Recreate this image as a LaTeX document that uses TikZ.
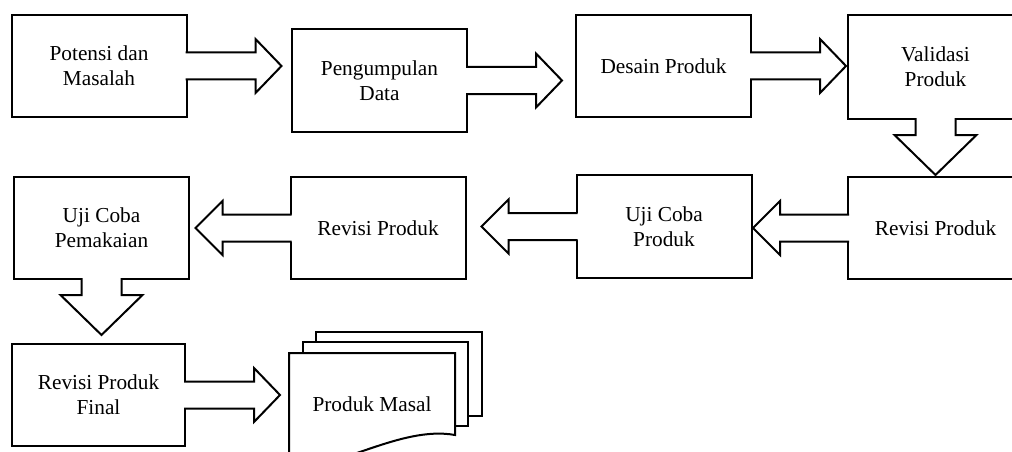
\documentclass[tikz,border=0pt]{standalone}
\usepackage{fontspec}
\setmainfont{Liberation Serif}
\usetikzlibrary{calc}

% block arrow: #1 from, #2 towards, #3 length, #4 shaft length, #5 shaft half width, #6 head half width
\newcommand{\blockarrow}[6]{%
  \coordinate (ba-s) at (#1);
  \coordinate (ba-d) at (#2);
  \coordinate (ba-t) at ($(ba-s)!-3pt!(ba-d)$);
  \coordinate (ba-e) at ($(ba-s)!-1pt!(ba-d)$);
  \coordinate (ba-b) at ($(ba-s)!#4!(ba-d)$);
  \coordinate (ba-p) at ($(ba-s)!#3!(ba-d)$);
  \fill[white] ($(ba-t)!#5!90:(ba-d)$) -- ($(ba-b)!#5!90:(ba-d)$) -- ($(ba-b)!#6!90:(ba-d)$) -- (ba-p)
    -- ($(ba-b)!#6!-90:(ba-d)$) -- ($(ba-b)!#5!-90:(ba-d)$) -- ($(ba-t)!#5!-90:(ba-d)$) -- cycle;
  \draw[blockline] ($(ba-e)!#5!90:(ba-d)$) -- ($(ba-b)!#5!90:(ba-d)$) -- ($(ba-b)!#6!90:(ba-d)$) -- (ba-p)
    -- ($(ba-b)!#6!-90:(ba-d)$) -- ($(ba-b)!#5!-90:(ba-d)$) -- ($(ba-e)!#5!-90:(ba-d)$);
}
\newcommand{\rightarrowblock}[2]{\blockarrow{#1.east}{#1.east -| #2.west}{95pt}{69pt}{13.5pt}{27pt}}
\newcommand{\leftarrowblock}[2]{\blockarrow{#1.west}{#1.west -| #2.east}{95pt}{68pt}{13.5pt}{27pt}}
\newcommand{\downarrowblock}[2]{\blockarrow{#1.south}{#1.south |- #2.north}{56pt}{16pt}{20pt}{41pt}}

\begin{document}
\begin{tikzpicture}[
    x=1pt, y=-1pt,
    box/.style={rectangle, draw, line width=2pt, fill=white, minimum width=175pt,
                minimum height=102pt, outer sep=0pt, align=center,
                font=\fontsize{21.3}{25}\selectfont},
    sheet/.style={draw, line width=2pt, fill=white, line join=miter},
    blockline/.style={line width=2pt, line join=miter}
]
\useasboundingbox (0,0) rectangle (1012,452);
\clip (0,0) rectangle (1012,452);

% === ROW 1 ===
\node[box] (potensi) at (99,66) {Potensi dan\\Masalah};
\node[box] (data) at (379.5,80.5) {Pengumpulan\\Data};
\node[box] (desain) at (663.5,66) {Desain Produk};
\node[box, minimum height=104pt] (validasi) at (935.5,67) {Validasi\\Produk};

% === ROW 2 ===
\node[box] (revisi1) at (935.5,228) {Revisi Produk};
\node[box, minimum height=103pt] (ujiproduk) at (664,226.5) {Uji Coba\\Produk};
\node[box] (revisi2) at (378,228) {Revisi Produk};
\node[box] (ujipakai) at (101.5,228) {Uji Coba\\Pemakaian};

% === ROW 3 ===
\node[box, minimum width=173pt] (final) at (98.5,395) {Revisi Produk\\Final};

% stacked documents
\draw[sheet] (316,332) rectangle (482,416);
\draw[sheet] (303,342) rectangle (468,426);
\draw[sheet] (289,466) -- (289,353) -- (455,353) -- (455,435)
    .. controls (400,425) and (335,472) .. (289,466);
\coordinate (docleft) at (289,395);
\node[font=\fontsize{21.3}{25}\selectfont] (masal) at (372,404) {Produk Masal};

% === ARROWS ===
\rightarrowblock{potensi}{data}
\rightarrowblock{data}{desain}
\rightarrowblock{desain}{validasi}
\downarrowblock{validasi}{revisi1}
\leftarrowblock{revisi1}{ujiproduk}
\leftarrowblock{ujiproduk}{revisi2}
\leftarrowblock{revisi2}{ujipakai}
\downarrowblock{ujipakai}{final}
\blockarrow{final.east}{final.east -| docleft}{95pt}{69pt}{13.5pt}{27pt}

\end{tikzpicture}
\end{document}
